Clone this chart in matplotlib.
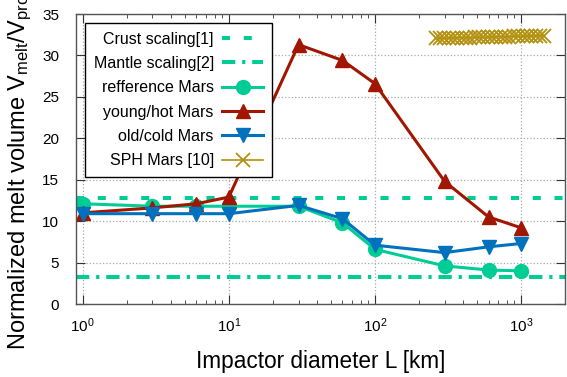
import numpy as np
import matplotlib.pyplot as plt
from matplotlib.ticker import LogLocator, NullFormatter

plt.rcParams['font.family'] = ['Liberation Sans', 'DejaVu Sans']
plt.rcParams['mathtext.fontset'] = 'custom'
plt.rcParams['mathtext.rm'] = 'Liberation Sans'
plt.rcParams['mathtext.it'] = 'Liberation Sans'

# impactor diameters [km]
diam = [1, 3, 6, 10, 30, 60, 100, 300, 600, 1000]
ref_mars = [12.1, 11.8, 11.8, 11.8, 11.8, 9.8, 6.6, 4.6, 4.1, 4.0]
young_mars = [11.0, 11.6, 12.1, 12.9, 31.3, 29.4, 26.6, 14.8, 10.5, 9.2]
old_mars = [10.9, 10.9, 10.9, 10.9, 11.9, 10.3, 7.1, 6.2, 6.9, 7.3]
crust_level = 12.75
mantle_level = 3.22

# SPH runs (dense cluster of points)
sph_diam = [260, 278, 298, 319, 342, 366, 392, 420, 450, 482, 516, 553, 592,
            634, 679, 727, 779, 834, 893, 957, 1025, 1097, 1175, 1259, 1348, 1440]
sph_vals = [32.05, 32.07, 32.08, 32.1, 32.1, 32.12, 32.13, 32.14, 32.15, 32.17, 32.18, 32.2,
            32.21, 32.22, 32.24, 32.25, 32.26, 32.28, 32.29, 32.3, 32.32, 32.33, 32.35, 32.36, 32.38, 32.4]

labels = ['Crust scaling[1]', 'Mantle scaling[2]', 'refference Mars',
          'young/hot Mars', 'old/cold Mars', 'SPH Mars [10]']

c_green = '#00cc96'
c_red = '#a11600'
c_blue = '#0071bd'
c_gold = '#b3900f'

fig = plt.figure(figsize=(5.67, 3.77), dpi=100)
ax = fig.add_axes([76/567, 73/377, 489/567, 290/377])

ax.axhline(crust_level, color=c_green, lw=2.9, dashes=(2.0, 3.4), label=labels[0])
ax.axhline(mantle_level, color=c_green, lw=2.9, dashes=(3.3, 1.7, 0.8, 1.7), label=labels[1])
ax.plot(diam, ref_mars, color=c_green, lw=2.2, marker='o', ms=10, label=labels[2])
ax.plot(diam, young_mars, color=c_red, lw=2.2, marker='^', ms=10.5, label=labels[3])
ax.plot(diam, old_mars, color=c_blue, lw=2.2, marker='v', ms=10.5, label=labels[4])
ax.plot(sph_diam, sph_vals, color=c_gold, lw=1.2, marker='x', ms=10, mew=1.3, label=labels[5])

ax.set_xscale('log')
ax.set_xlim(0.9, 2000)
ax.set_ylim(0, 35)
ax.set_yticks(range(0, 36, 5))
ax.xaxis.set_minor_locator(LogLocator(base=10, subs=np.arange(2, 10)))
ax.xaxis.set_minor_formatter(NullFormatter())

ax.grid(True, which='major', color='#aaaaaa', ls=':', lw=0.9)
ax.tick_params(which='both', direction='in', top=True, right=True, labelsize=11,
               colors='#333333', labelcolor='black')
ax.tick_params(which='major', length=6.5)
ax.tick_params(axis='y', which='major', pad=12)
ax.tick_params(axis='x', which='major', pad=9)
ax.tick_params(which='minor', length=3)
for s in ax.spines.values():
    s.set_color('#555555')
    s.set_linewidth(1.0)

ax.set_xlabel('Impactor diameter L [km]', fontsize=16.3, labelpad=11)
ax.set_ylabel('Normalized melt volume V$_{\\mathrm{melt}}$/V$_{\\mathrm{proj}}$', fontsize=17)
ax.yaxis.set_label_coords(-0.085, 0.46)

leg = ax.legend(loc='upper left', bbox_to_anchor=(0.018, 0.969), borderaxespad=0,
                fontsize=11.5, markerfirst=False,
                handlelength=2.6, handletextpad=0.5, borderpad=0.55, labelspacing=0.58,
                fancybox=False, framealpha=1, edgecolor='black')
leg.get_frame().set_linewidth(1.0)

# right-align the legend texts (gnuplot style)
fig.canvas.draw()
renderer = fig.canvas.get_renderer()
texts = leg.get_texts()
right = max(t.get_window_extent(renderer).x1 for t in texts)
inv = fig.transFigure.inverted()
for t in texts:
    x0, y0 = t.get_transform().transform((0, 0))
    fx, fy = inv.transform((right, y0))
    fig.text(fx, fy, t.get_text(), ha='right', va='baseline', fontsize=11.5, zorder=10)
    t.set_alpha(0)

fig.savefig('out.png', dpi=100)
